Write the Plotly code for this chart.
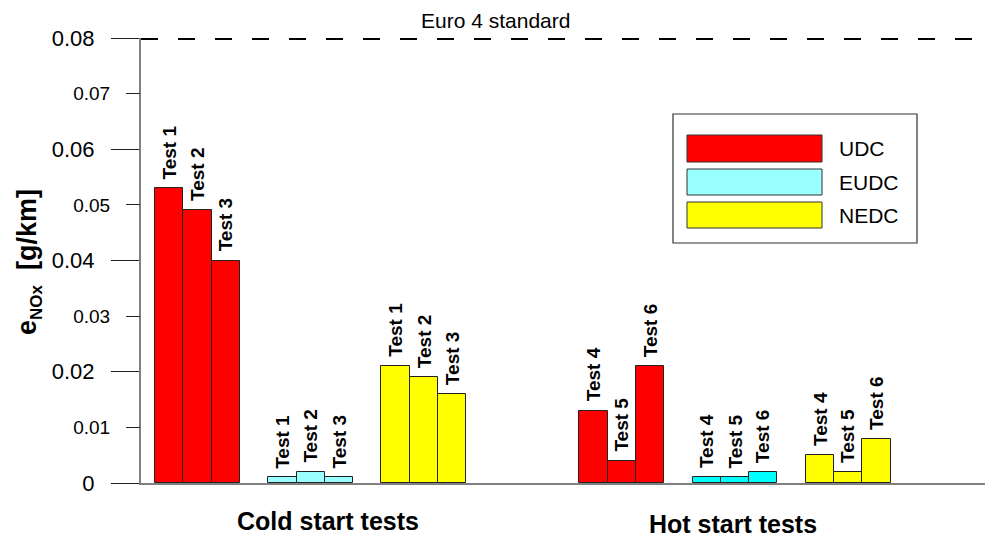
import plotly.graph_objects as go

# ---------------- data ----------------
conditions = ["Cold start tests", "Hot start tests"]
cycles = ["UDC", "EUDC", "NEDC"]
cold_tests = ["Test 1", "Test 2", "Test 3"]
hot_tests = ["Test 4", "Test 5", "Test 6"]

udc_cold = [0.053, 0.049, 0.040]
eudc_cold = [0.001, 0.002, 0.001]
nedc_cold = [0.021, 0.019, 0.016]
udc_hot = [0.013, 0.004, 0.021]
eudc_hot = [0.001, 0.001, 0.002]
nedc_hot = [0.005, 0.002, 0.008]

euro4_limit = 0.08
euro4_label = "Euro 4 standard"

y_major = [0, 0.02, 0.04, 0.06, 0.08]
y_major_text = ["0", "0.02", "0.04", "0.06", "0.08"]
y_minor = [0.01, 0.03, 0.05, 0.07]
y_minor_text = ["0.01", "0.03", "0.05", "0.07"]

# ---------------- styles ----------------
FONT = "Liberation Sans, Arial, Helvetica, sans-serif"
cold_colors = {"UDC": "#FF0000", "EUDC": "#99FFFF", "NEDC": "#FFFF00"}
hot_colors = {"UDC": "#FF0000", "EUDC": "#00FFFF", "NEDC": "#FFFF00"}
legend_colors = {"UDC": "#FF0000", "EUDC": "#99FFFF", "NEDC": "#FFFF00"}

data = {
    "Cold start tests": {"tests": cold_tests, "colors": cold_colors,
                         "UDC": udc_cold, "EUDC": eudc_cold, "NEDC": nedc_cold},
    "Hot start tests": {"tests": hot_tests, "colors": hot_colors,
                        "UDC": udc_hot, "EUDC": eudc_hot, "NEDC": nedc_hot},
}

# figure geometry (pixels)
W, H = 992, 538
L, R, T, B = 141, 7, 38, 55
pw, ph = W - L - R, H - T - B


def px_x(px):
    return (px - L) / pw


def px_y(py):
    return (H - B - py) / ph


fig = go.Figure()
annotations = []

for ci, cond in enumerate(conditions):
    d = data[cond]
    for gi, cyc in enumerate(cycles):
        vals = d[cyc]
        xs = [ci * 15 + gi * 4 + ti + 1 for ti in range(len(vals))]
        fig.add_trace(go.Bar(
            x=xs, y=vals, width=1,
            marker=dict(color=d["colors"][cyc], line=dict(color="#222222", width=1)),
            showlegend=False, name=cyc, hoverinfo="x+y",
        ))
        for x, v, t in zip(xs, vals, d["tests"]):
            annotations.append(dict(
                x=x, y=v, xref="x", yref="y", text=t, showarrow=False,
                textangle=-90, xanchor="center", yanchor="bottom", yshift=7,
                font=dict(family=FONT, size=19, color="black", weight="bold"),
            ))

# dummy trace for the minor-label axis
fig.add_trace(go.Scatter(x=[None], y=[None], yaxis="y2", showlegend=False, hoverinfo="skip"))

# group labels
group_pos = [(6.6, 521), (20.92, 524)]
for cond, (gx, gy) in zip(conditions, group_pos):
    annotations.append(dict(
        x=gx, y=px_y(gy), xref="x", yref="paper", text=cond, showarrow=False,
        xanchor="center", yanchor="middle",
        font=dict(family=FONT, size=25, color="black", weight="bold"),
    ))

# y-axis title
annotations.append(dict(
    x=px_x(29), y=px_y(262), xref="paper", yref="paper",
    text="e<sub><span style='font-size:17px'>NOx</span></sub>  [g/km]",
    showarrow=False, textangle=-90, xanchor="center", yanchor="middle",
    font=dict(family=FONT, size=27, color="black", weight="bold"),
))

# Euro 4 label
annotations.append(dict(
    x=px_x(495), y=px_y(20), xref="paper", yref="paper", text=euro4_label,
    showarrow=False, xanchor="center", yanchor="middle",
    font=dict(family=FONT, size=21, color="black"),
))

shapes = [
    dict(type="line", xref="paper", yref="y", x0=0, x1=1, y0=euro4_limit, y1=euro4_limit,
         line=dict(color="black", width=4, dash="17px,20px")),
    # legend box
    dict(type="rect", xref="paper", yref="paper",
         x0=px_x(673), x1=px_x(917), y0=px_y(243), y1=px_y(114),
         line=dict(color="#333333", width=1.2), fillcolor="white"),
]
leg_rows = [(135, 162), (169, 195), (202, 228)]
for cyc, (y0, y1) in zip(cycles, leg_rows):
    shapes.append(dict(type="rect", xref="paper", yref="paper",
                       x0=px_x(687), x1=px_x(822), y0=px_y(y1), y1=px_y(y0),
                       line=dict(color="#333333", width=1), fillcolor=legend_colors[cyc]))
    annotations.append(dict(
        x=px_x(837), y=px_y((y0 + y1) / 2), xref="paper", yref="paper", text=cyc,
        showarrow=False, xanchor="left", yanchor="middle",
        font=dict(family=FONT, size=21, color="black"),
    ))

fig.update_layout(
    width=W, height=H,
    margin=dict(l=L, r=R, t=T, b=B),
    paper_bgcolor="white", plot_bgcolor="white",
    barmode="overlay", bargap=0,
    showlegend=False,
    xaxis=dict(range=[0, 29.84], showline=True, linecolor="#808080", linewidth=2,
               showticklabels=False, ticks="", showgrid=False, zeroline=False, fixedrange=True),
    yaxis=dict(range=[0, 0.08], tickvals=y_major, ticktext=y_major_text,
               ticks="outside", ticklen=28, tickcolor="#222222", tickwidth=1,
               showline=True, linecolor="#808080", linewidth=2,
               showgrid=False, zeroline=False, ticklabelstandoff=12,
               tickfont=dict(family=FONT, size=22, color="black")),
    yaxis2=dict(range=[0, 0.08], overlaying="y", side="left", tickvals=y_minor,
                ticktext=y_minor_text, ticks="outside", ticklen=14, tickcolor="#222222",
                tickwidth=1, showline=False, showgrid=False, zeroline=False,
                ticklabelstandoff=12, tickfont=dict(family=FONT, size=19, color="black")),
    annotations=annotations,
    shapes=shapes,
)

fig.write_html(
    "out.html",
    config={"displayModeBar": False},
    post_script="document.body.style.margin='0px';document.body.style.padding='0px';",
)
